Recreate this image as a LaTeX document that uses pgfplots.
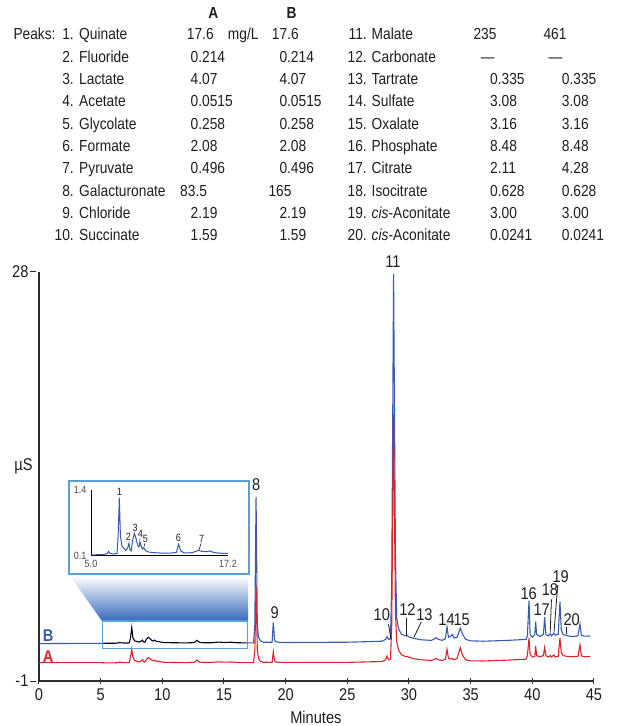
\documentclass[border=0pt]{standalone}
\usepackage{fontspec}
\setmainfont{Liberation Sans}[FakeStretch=0.86]
\usepackage{pgfplots}
\pgfplotsset{compat=1.18}
\usepackage{pgfplotstable}
\definecolor{tB}{RGB}{58,90,178}
\definecolor{tA}{RGB}{218,36,44}
\definecolor{boxb}{RGB}{88,160,220}
\definecolor{gradb}{RGB}{55,105,188}
\definecolor{axc}{RGB}{45,45,45}
\definecolor{txt}{RGB}{30,30,30}
\newcommand\tabfont{\fontsize{16}{19}\selectfont}
\newcommand\lab{\fontsize{17}{20}\selectfont}
\newcommand\trow[9]{%
  \node[anchor=base east] at (#2pt,#1pt) {#3};
  \node[anchor=base west] at (#4pt,#1pt) {#5};
  \node[anchor=base west] at (#6pt,#1pt) {#7};
  \node[anchor=base west] at (#8pt,#1pt) {#9};}

% inset (B trace, 5.0-17.2 min)
\pgfplotstableread{
t v
5.0 0.12
5.5 0.125
6.2 0.13
6.45 0.15
6.55 0.19
6.7 0.15
7.0 0.14
7.32 0.15
7.42 0.5
7.52 1.25
7.62 0.5
7.75 0.3
7.9 0.26
8.1 0.21
8.25 0.25
8.38 0.35
8.48 0.22
8.58 0.2
8.7 0.4
8.86 0.55
9.0 0.45
9.15 0.32
9.27 0.28
9.39 0.35
9.5 0.27
9.6 0.24
9.69 0.26
9.85 0.21
10.1 0.18
10.4 0.17
11.0 0.16
12.0 0.155
12.6 0.17
12.8 0.33
13.0 0.2
13.3 0.16
14.0 0.165
14.3 0.19
14.56 0.21
14.9 0.19
15.3 0.185
15.6 0.2
15.9 0.17
16.5 0.155
17.2 0.15
}\inset

% B trace, first blue part
\pgfplotstableread{
t v
0 1.65
2.0 1.66
4.0 1.67
5.13 1.67
}\Bone

% B trace, black part inside the zoom rectangle
\pgfplotstableread{
t v
5.13 1.67
5.5 1.675
6.2 1.68
6.45 1.70
6.55 1.74
6.7 1.70
7.0 1.69
7.32 1.70
7.42 2.05
7.52 2.78
7.62 2.05
7.75 1.85
7.9 1.81
8.1 1.76
8.25 1.80
8.38 1.90
8.48 1.77
8.58 1.75
8.7 1.95
8.86 2.10
9.0 2.00
9.15 1.87
9.27 1.83
9.39 1.90
9.5 1.82
9.6 1.79
9.69 1.81
9.85 1.76
10.1 1.73
10.4 1.72
11.0 1.71
12.0 1.705
12.6 1.72
12.8 1.88
13.0 1.75
13.3 1.71
14.0 1.715
14.3 1.74
14.56 1.76
14.9 1.74
15.3 1.735
15.6 1.75
15.9 1.72
16.5 1.705
16.9 1.70
}\Bblack

% B trace, rest
\pgfplotstableread{
t v
16.9 1.70
17.4 1.70
17.5 3.0
17.6 12.05
17.7 3.0
17.8 2.1
17.95 1.85
18.2 1.75
18.9 1.75
19.0 3.16
19.1 1.9
19.2 1.78
19.5 1.74
20 1.73
25 1.75
27.8 1.82
28.1 1.95
28.22 2.14
28.35 1.95
28.5 2.0
28.6 6
28.75 27.85
28.9 8
29.0 3.5
29.15 2.7
29.4 2.3
29.75 2.2
29.85 2.22
30.0 2.12
30.4 2.02
31.0 1.92
31.8 1.88
32.0 1.95
32.2 2.07
32.4 1.95
32.7 1.88
32.95 2.0
33.08 2.85
33.2 2.1
33.35 2.15
33.5 2.3
33.65 2.05
33.9 2.1
34.16 2.74
34.35 2.3
34.6 1.95
35.0 1.85
36 1.82
38 1.88
39.5 1.95
39.6 2.2
39.73 4.7
39.82 2.3
40.0 2.1
40.2 2.3
40.27 3.2
40.35 2.3
40.6 2.15
40.9 2.3
41.0 3.52
41.1 2.3
41.3 2.2
41.45 2.35
41.55 2.2
41.75 2.4
41.85 2.25
42.1 2.3
42.24 4.62
42.35 2.6
42.5 2.3
42.8 2.22
43.2 2.15
43.7 2.2
43.86 3.04
43.98 2.25
44.2 2.18
44.7 2.19
}\Btwo

% A trace
\pgfplotstableread{
t v
0 0.30
5.0 0.30
5.5 0.285
6.2 0.29
6.45 0.31
6.55 0.35
6.7 0.31
7.0 0.30
7.32 0.31
7.42 0.7
7.52 1.25
7.62 0.7
7.75 0.45
7.9 0.41
8.1 0.36
8.25 0.40
8.38 0.50
8.48 0.37
8.58 0.35
8.7 0.52
8.86 0.66
9.0 0.58
9.15 0.47
9.27 0.43
9.39 0.48
9.5 0.42
9.6 0.39
9.69 0.41
9.85 0.36
10.1 0.33
10.4 0.32
11.0 0.31
12.0 0.305
12.6 0.32
12.8 0.48
13.0 0.35
13.3 0.31
14.0 0.315
14.3 0.34
14.56 0.36
14.9 0.34
15.3 0.335
15.6 0.35
15.9 0.32
16.5 0.305
17.4 0.30
17.5 1.2
17.6 5.8
17.7 1.2
17.8 0.6
17.95 0.4
18.2 0.33
18.9 0.32
19.0 1.08
19.1 0.45
19.2 0.35
19.5 0.32
25 0.32
27.8 0.38
28.1 0.5
28.22 0.77
28.35 0.5
28.5 0.55
28.6 3
28.75 17.9
28.9 4
29.0 1.8
29.15 1.2
29.4 0.85
29.75 0.72
29.85 0.75
30.0 0.68
30.4 0.58
31.0 0.5
31.8 0.46
32.0 0.52
32.2 0.6
32.4 0.5
32.7 0.45
32.95 0.55
33.08 1.25
33.2 0.6
33.35 0.55
33.5 0.6
33.65 0.5
33.9 0.6
34.16 1.36
34.35 0.8
34.6 0.5
35.0 0.43
36 0.42
38 0.48
39.5 0.55
39.6 0.8
39.73 2.03
39.82 0.9
40.0 0.7
40.2 0.75
40.27 1.48
40.35 0.8
40.6 0.72
40.9 0.8
41.0 1.38
41.1 0.8
41.3 0.7
41.45 0.8
41.55 0.7
41.75 0.85
41.85 0.7
42.1 0.75
42.24 2.03
42.35 1.0
42.5 0.8
42.8 0.75
43.2 0.72
43.7 0.75
43.86 1.55
43.98 0.78
44.2 0.72
44.7 0.73
}\Atr

\begin{document}
\begin{tikzpicture}
\useasboundingbox (0,0) rectangle (618pt,726pt);

% ---------- peak table ----------
\begin{scope}[every node/.style={inner sep=0pt, font=\tabfont, text=txt}]
\node[anchor=base, font=\tabfont\bfseries] at (213.3pt,707.7pt) {A};
\node[anchor=base, font=\tabfont\bfseries] at (291.7pt,707.7pt) {B};
\node[anchor=base west] at (13.3pt,686.0pt) {Peaks:};
\node[anchor=base west] at (227.7pt,686.0pt) {mg/L};
\trow{686.0}{74}{1.}{79}{Quinate}{186.7}{17.6}{271.7}{17.6}
\trow{663.7}{74}{2.}{79}{Fluoride}{190.5}{0.214}{279.3}{0.214}
\trow{641.4}{74}{3.}{79}{Lactate}{190.5}{4.07}{279.3}{4.07}
\trow{619.1}{74}{4.}{79}{Acetate}{190.5}{0.0515}{279.3}{0.0515}
\trow{596.8}{74}{5.}{79}{Glycolate}{190.5}{0.258}{279.3}{0.258}
\trow{574.5}{74}{6.}{79}{Formate}{190.5}{2.08}{279.3}{2.08}
\trow{552.2}{74}{7.}{79}{Pyruvate}{190.5}{0.496}{279.3}{0.496}
\trow{529.9}{74}{8.}{79}{Galacturonate}{180}{83.5}{268.3}{165}
\trow{507.6}{74}{9.}{79}{Chloride}{190.5}{2.19}{279.3}{2.19}
\trow{485.3}{74}{10.}{79}{Succinate}{190.5}{1.59}{279.3}{1.59}
\trow{686.0}{367}{11.}{371.5}{Malate}{473.3}{235}{543.3}{461}
\trow{663.7}{367}{12.}{371.5}{Carbonate}{480.7}{—}{548.3}{—}
\trow{641.4}{367}{13.}{371.5}{Tartrate}{490}{0.335}{561.7}{0.335}
\trow{619.1}{367}{14.}{371.5}{Sulfate}{490}{3.08}{561.7}{3.08}
\trow{596.8}{367}{15.}{371.5}{Oxalate}{490}{3.16}{561.7}{3.16}
\trow{574.5}{367}{16.}{371.5}{Phosphate}{490}{8.48}{561.7}{8.48}
\trow{552.2}{367}{17.}{371.5}{Citrate}{490}{2.11}{561.7}{4.28}
\trow{529.9}{367}{18.}{371.5}{Isocitrate}{490}{0.628}{561.7}{0.628}
\trow{507.6}{367}{19.}{371.5}{\textit{cis}-Aconitate}{490}{3.00}{561.7}{3.00}
\trow{485.3}{367}{20.}{371.5}{\textit{cis}-Aconitate}{490}{0.0241}{561.7}{0.0241}
\end{scope}

% ---------- zoom connector (gradient) ----------
\shade[top color=white, bottom color=gradb, draw=none]
  (70pt,150pt) -- (248pt,150pt) -- (248pt,105pt) -- (102pt,105pt) -- cycle;

% ---------- main chromatogram ----------
\begin{axis}[
  at={(39pt,45pt)}, anchor=south west,
  width=555pt, height=409pt, scale only axis,
  xmin=0, xmax=45, ymin=-1, ymax=28,
  axis x line=bottom, axis y line=left,
  axis line style={-, draw=axc, line width=1.1pt},
  xtick={0,5,...,45}, ytick={-1,28},
  tick style={draw=axc, line width=1pt},
  major tick length=6pt,
  ytick style={xshift=-6pt},
  tick label style={font=\lab, text=txt},
  /pgf/number format/assume math mode=true,
  yticklabel style={xshift=-4pt},
  xticklabel style={yshift=-1pt},
  clip=false,
]
\addplot[tB, line width=1.1pt] table[x=t,y=v] {\Bone};
\addplot[black!85!blue, line width=1.1pt] table[x=t,y=v] {\Bblack};
\addplot[tB, line width=1.1pt] table[x=t,y=v] {\Btwo};
\addplot[tA, line width=1.1pt] table[x=t,y=v] {\Atr};

% zoom rectangle
\draw[boxb, line width=1.2pt] (axis cs:5.13,1.32) rectangle (axis cs:16.9,3.25);

% trace labels
\node[font=\lab\bfseries, text=tB] at (axis cs:0.75,2.25) {B};
\node[font=\lab\bfseries, text=tA] at (axis cs:0.75,0.75) {A};

% axis labels
\node[font=\lab, text=txt] at (axis cs:-1.25,14.2) {µS};
\node[font=\lab, text=txt] at (axis cs:22.45,-3.55) {Minutes};

% peak labels
\begin{scope}[every node/.style={font=\lab, text=txt, inner sep=0pt}]
\node at (axis cs:17.6,12.9) {8};
\node at (axis cs:19.1,3.86) {9};
\node at (axis cs:27.8,3.68) {10};
\node at (axis cs:28.7,28.75) {11};
\node at (axis cs:29.87,4.03) {12};
\node at (axis cs:31.25,3.68) {13};
\node at (axis cs:33.05,3.33) {14};
\node at (axis cs:34.27,3.33) {15};
\node at (axis cs:39.7,5.22) {16};
\node at (axis cs:40.76,4.08) {17};
\node at (axis cs:41.43,5.45) {18};
\node at (axis cs:42.3,6.4) {19};
\node at (axis cs:43.19,3.37) {20};
\end{scope}
\draw[txt, line width=0.8pt] (axis cs:28.33,3.04) -- (axis cs:28.55,1.95);
\draw[txt, line width=0.8pt] (axis cs:29.75,3.45) -- (axis cs:29.75,2.22);
\draw[txt, line width=0.8pt] (axis cs:31.0,3.2) -- (axis cs:30.4,2.1);
\draw[txt, line width=0.8pt] (axis cs:41.55,4.79) -- (axis cs:41.45,2.45);
\draw[txt, line width=0.8pt] (axis cs:42.06,5.8) -- (axis cs:41.76,2.5);
\draw[txt, line width=0.8pt] (axis cs:42.8,2.85) -- (axis cs:42.8,2.33);
\end{axis}

% ---------- inset ----------
\draw[boxb, fill=white, line width=1.3pt] (69pt,152pt) rectangle (249pt,245pt);
\begin{axis}[
  at={(91pt,170pt)}, anchor=south west,
  width=137pt, height=66pt, scale only axis,
  xmin=5, xmax=17.2, ymin=0.1, ymax=1.4,
  axis x line=bottom, axis y line=left,
  axis line style={-, draw=black, line width=1pt},
  xtick={5,17.2}, xticklabels={5.0,17.2},
  ytick={0.1,1.4}, yticklabels={0.1,1.4},
  major tick length=0pt,
  tick label style={font=\fontsize{10.5}{12}\selectfont, text=black!70},
  xticklabel style={yshift=-1pt},
  yticklabel style={xshift=-1pt},
  clip=false,
]
\addplot[tB, line width=1pt] table[x=t,y=v] {\inset};
\begin{scope}[every node/.style={font=\fontsize{10.5}{12}\selectfont, text=txt, inner sep=0pt}]
\node[anchor=south] at (axis cs:7.52,1.28) {1};
\node at (axis cs:8.33,0.47) {2};
\node at (axis cs:8.92,0.66) {3};
\node at (axis cs:9.39,0.53) {4};
\node at (axis cs:9.84,0.43) {5};
\node at (axis cs:12.78,0.46) {6};
\node at (axis cs:14.86,0.43) {7};
\end{scope}
\draw[txt, line width=0.6pt] (axis cs:9.36,0.44) -- (axis cs:9.33,0.33);
\draw[txt, line width=0.6pt] (axis cs:9.78,0.35) -- (axis cs:9.72,0.27);
\draw[txt, line width=0.6pt] (axis cs:14.8,0.35) -- (axis cs:14.62,0.22);
\end{axis}
\end{tikzpicture}
\end{document}
